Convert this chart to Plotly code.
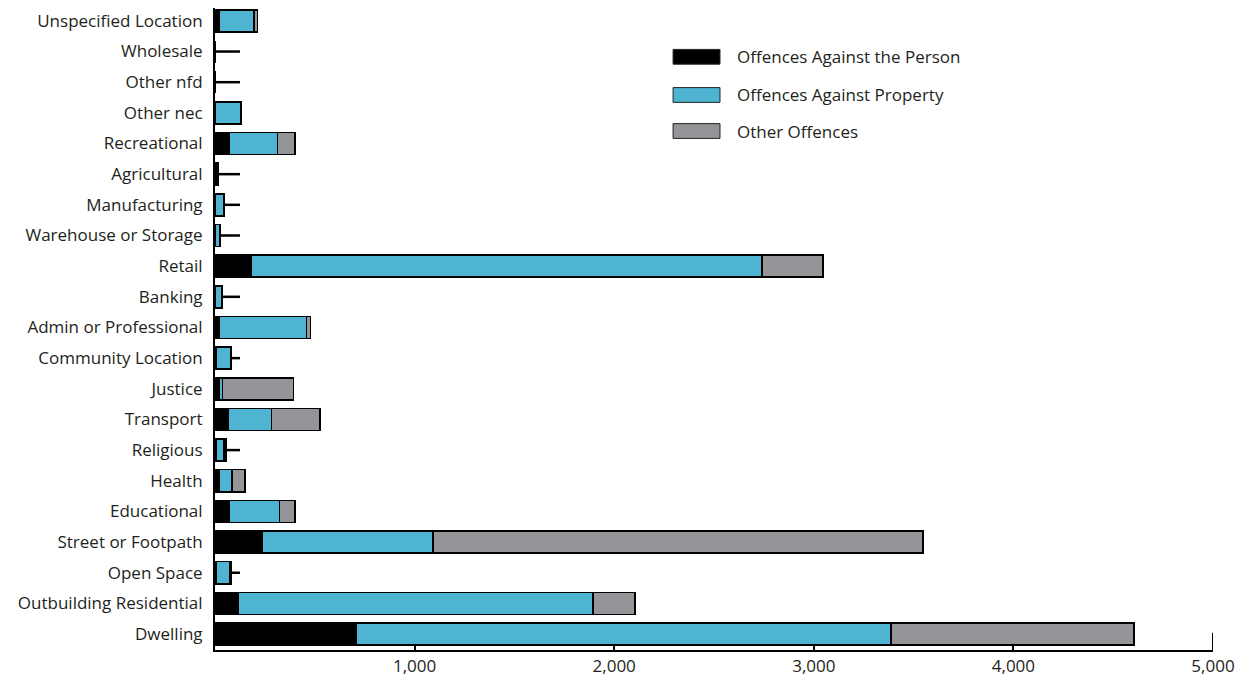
import plotly.graph_objects as go

categories = ["Unspecified Location", "Wholesale", "Other nfd", "Other nec", "Recreational",
              "Agricultural", "Manufacturing", "Warehouse or Storage", "Retail", "Banking",
              "Admin or Professional", "Community Location", "Justice", "Transport", "Religious",
              "Health", "Educational", "Street or Footpath", "Open Space",
              "Outbuilding Residential", "Dwelling"]
person = [20, 0, 0, 0, 70, 5, 3, 3, 184, 3, 22, 5, 20, 67, 5, 20, 70, 235, 5, 115, 706]
property_ = [175, 0, 0, 129, 242, 10, 42, 22, 2557, 32, 437, 72, 18, 217, 40, 65, 252, 857, 70, 1779, 2681]
other = [17, 0, 0, 0, 90, 2, 2, 2, 306, 2, 19, 3, 356, 242, 10, 65, 80, 2455, 5, 210, 1217]
whisker = [None, 125, 125, None, None, 125, 125, 125, None, 125, None, 125, None, None, 125,
           None, None, None, 125, None, None]
tick_vals = [1000, 2000, 3000, 4000, 5000]
tick_text = ["1,000", "2,000", "3,000", "4,000", "5,000"]
series_names = ["Offences Against the Person", "Offences Against Property", "Other Offences"]
colors = ["#000000", "#4FB3D2", "#939598"]

FONT = "Open Sans"
NARROW = "Liberation Sans Narrow, Open Sans"

fig = go.Figure()
for name, vals, col in zip(series_names, [person, property_, other], colors):
    fig.add_trace(go.Bar(
        y=categories, x=vals, name=name, orientation="h",
        marker=dict(color=col, line=dict(color="#000000", width=1.5)),
        width=0.72, showlegend=False,
    ))

# whisker lines
wx, wy = [], []
for c, p, q, o, w in zip(categories, person, property_, other, whisker):
    if w is not None:
        wx += [p + q + o, w, None]
        wy += [c, c, None]
fig.add_trace(go.Scatter(x=wx, y=wy, mode="lines", line=dict(color="#000000", width=2.5),
                         showlegend=False, hoverinfo="skip"))

# manual legend
leg_y = [0.924, 0.8645, 0.8084]
for name, col, yy in zip(series_names, colors, leg_y):
    fig.add_shape(type="rect", xref="paper", yref="paper", x0=0.459, x1=0.506,
                  y0=yy - 0.0115, y1=yy + 0.0115, fillcolor=col,
                  line=dict(color="#222222", width=1))
    fig.add_annotation(xref="paper", yref="paper", x=0.521, y=yy, text=name,
                       showarrow=False, xanchor="left", yanchor="middle",
                       font=dict(family=FONT, size=17, color="#231f20"))

# end tick at 5000
fig.add_shape(type="line", xref="x", yref="paper", x0=5000, x1=5000, y0=0, y1=0.027,
              line=dict(color="#000000", width=2))

fig.update_layout(
    barmode="stack",
    width=1260, height=685,
    margin=dict(l=207, r=55, t=0, b=43, autoexpand=False),
    plot_bgcolor="white", paper_bgcolor="white",
    font=dict(family=FONT, size=17, color="#231f20"),
    xaxis=dict(range=[0, 5000], tickvals=tick_vals, ticktext=tick_text, automargin=False,
               showgrid=False, zeroline=False, showline=True, linecolor="#000000",
               linewidth=2, ticks="inside", ticklen=5, tickwidth=1.5, tickcolor="#000000",
               tickfont=dict(family=NARROW, size=17, color="#231f20")),
    yaxis=dict(categoryorder="array", categoryarray=categories, range=[20.52, -0.42],
               automargin=False,
               showgrid=False, zeroline=False, showline=True, linecolor="#000000",
               linewidth=2, ticks="", ticklabelstandoff=7,
               tickfont=dict(family=FONT, size=17, color="#231f20")),
)

fig.write_html("out.html")
